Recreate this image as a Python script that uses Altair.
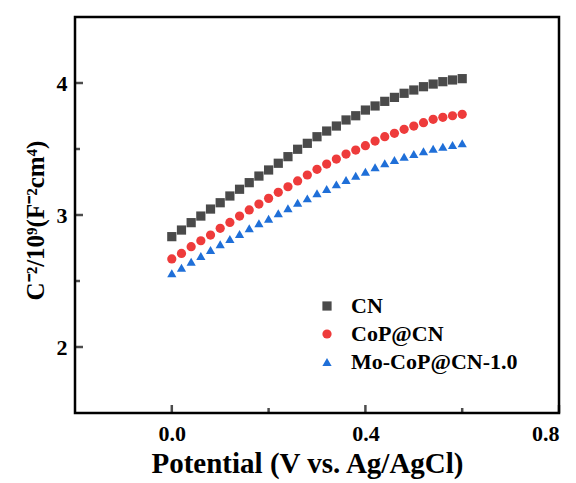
import altair as alt
import pandas as pd

potential = [round(i * 0.02, 2) for i in range(31)]
cn = [2.836, 2.886, 2.942, 2.992, 3.045, 3.093, 3.144, 3.195, 3.245, 3.295, 3.341,
      3.392, 3.442, 3.498, 3.543, 3.593, 3.636, 3.674, 3.720, 3.752, 3.795, 3.826,
      3.861, 3.891, 3.922, 3.947, 3.972, 3.992, 4.010, 4.023, 4.033]
cop = [2.667, 2.709, 2.760, 2.805, 2.848, 2.899, 2.944, 2.992, 3.038, 3.083, 3.126,
       3.172, 3.214, 3.258, 3.303, 3.346, 3.386, 3.424, 3.462, 3.492, 3.525, 3.560,
       3.593, 3.619, 3.649, 3.674, 3.699, 3.725, 3.740, 3.752, 3.763]
mo = [2.558, 2.601, 2.646, 2.689, 2.735, 2.778, 2.818, 2.856, 2.899, 2.937, 2.972,
      3.013, 3.051, 3.093, 3.126, 3.164, 3.197, 3.232, 3.265, 3.298, 3.328, 3.361,
      3.392, 3.417, 3.442, 3.462, 3.483, 3.502, 3.517, 3.530, 3.543]
series = ["CN", "CoP@CN", "Mo-CoP@CN-1.0"]
colors = ["#4a4a4a", "#ee3b3b", "#1f6fd8"]
shapes = ["square", "circle", "triangle-up"]

x_major = [0.0, 0.4, 0.8]
x_minor = [0.2, 0.6]
y_major = [2, 3, 4]
y_minor = [2.5, 3.5]

rows = []
for name, vals in zip(series, [cn, cop, mo]):
    for p, v in zip(potential, vals):
        rows.append({"Potential": p, "C": v, "Sample": name})
df = pd.DataFrame(rows)

W, H = 484, 396
FONT = "Liberation Serif"
XT = "Potential (V vs. Ag/AgCl)"
YT = "C⁻²/10⁹(F⁻²cm⁴)"
xs = alt.Scale(domain=[-0.2, 0.8], nice=False, zero=False)
ys = alt.Scale(domain=[1.5, 4.5], nice=False, zero=False)

xaxis = alt.Axis(values=x_major, format=".1f", tickSize=0, domain=False, grid=False,
                 labelFont=FONT, labelFontSize=22, labelFontWeight="bold",
                 labelColor="black", labelPadding=10,
                 title=XT, titleFont=FONT,
                 titleFontSize=29, titleFontWeight="bold", titleColor="black",
                 titleX=232, titleY=50, titleBaseline="middle", titleAnchor="middle")
yaxis = alt.Axis(values=y_major, format="d", tickSize=0, domain=False, grid=False,
                 labelFont=FONT, labelFontSize=22, labelFontWeight="bold",
                 labelColor="black", labelPadding=8,
                 title=YT, titleFont=FONT,
                 titleFontSize=25, titleFontWeight="bold", titleColor="black",
                 titleX=-40, titleY=203, titleBaseline="middle", titleAnchor="middle")

points = alt.Chart(df).mark_point(filled=True, size=85, opacity=1).encode(
    x=alt.X("Potential:Q", scale=xs, axis=xaxis, title=XT),
    y=alt.Y("C:Q", scale=ys, axis=yaxis, title=YT),
    color=alt.Color("Sample:N", scale=alt.Scale(domain=series, range=colors),
                    legend=alt.Legend(title=None, orient="none", legendX=241, legendY=278,
                                      labelFont=FONT, labelFontSize=22, labelFontWeight="bold",
                                      labelColor="black", symbolSize=85, labelOffset=13,
                                      labelLimit=400, rowPadding=6, padding=0,
                                      symbolStrokeWidth=0)),
    shape=alt.Shape("Sample:N", scale=alt.Scale(domain=series, range=shapes)),
)

xmaj = alt.Chart(pd.DataFrame({"tx": x_major})).mark_tick(
    color="#000000", thickness=2.5, size=8, orient="vertical", yOffset=-4).encode(
    x=alt.X("tx:Q", scale=xs, title=XT), y=alt.value(H))
xmin = alt.Chart(pd.DataFrame({"tx": x_minor})).mark_tick(
    color="#000000", thickness=2.5, size=5, orient="vertical", yOffset=-2.5).encode(
    x=alt.X("tx:Q", scale=xs, title=XT), y=alt.value(H))
ymaj = alt.Chart(pd.DataFrame({"ty": y_major})).mark_tick(
    color="#000000", thickness=2.5, size=8, orient="horizontal", xOffset=4).encode(
    y=alt.Y("ty:Q", scale=ys, title=YT), x=alt.value(0))
ymin = alt.Chart(pd.DataFrame({"ty": y_minor})).mark_tick(
    color="#000000", thickness=2.5, size=5, orient="horizontal", xOffset=2.5).encode(
    y=alt.Y("ty:Q", scale=ys, title=YT), x=alt.value(0))
frame = alt.Chart(pd.DataFrame({"k": [0]})).mark_rect(
    fill=None, stroke="black", strokeWidth=2.5).encode(
    x=alt.value(0), x2=alt.value(W), y=alt.value(0), y2=alt.value(H))

chart = alt.layer(frame, points, xmaj, xmin, ymaj, ymin).properties(
    width=W, height=H,
    autosize=alt.AutoSizeParams(type="none"),
    padding={"left": 67, "top": 9, "right": 9, "bottom": 70},
).configure_view(stroke=None)

chart.save("out.html", embed_options={"renderer": "svg", "actions": False})
